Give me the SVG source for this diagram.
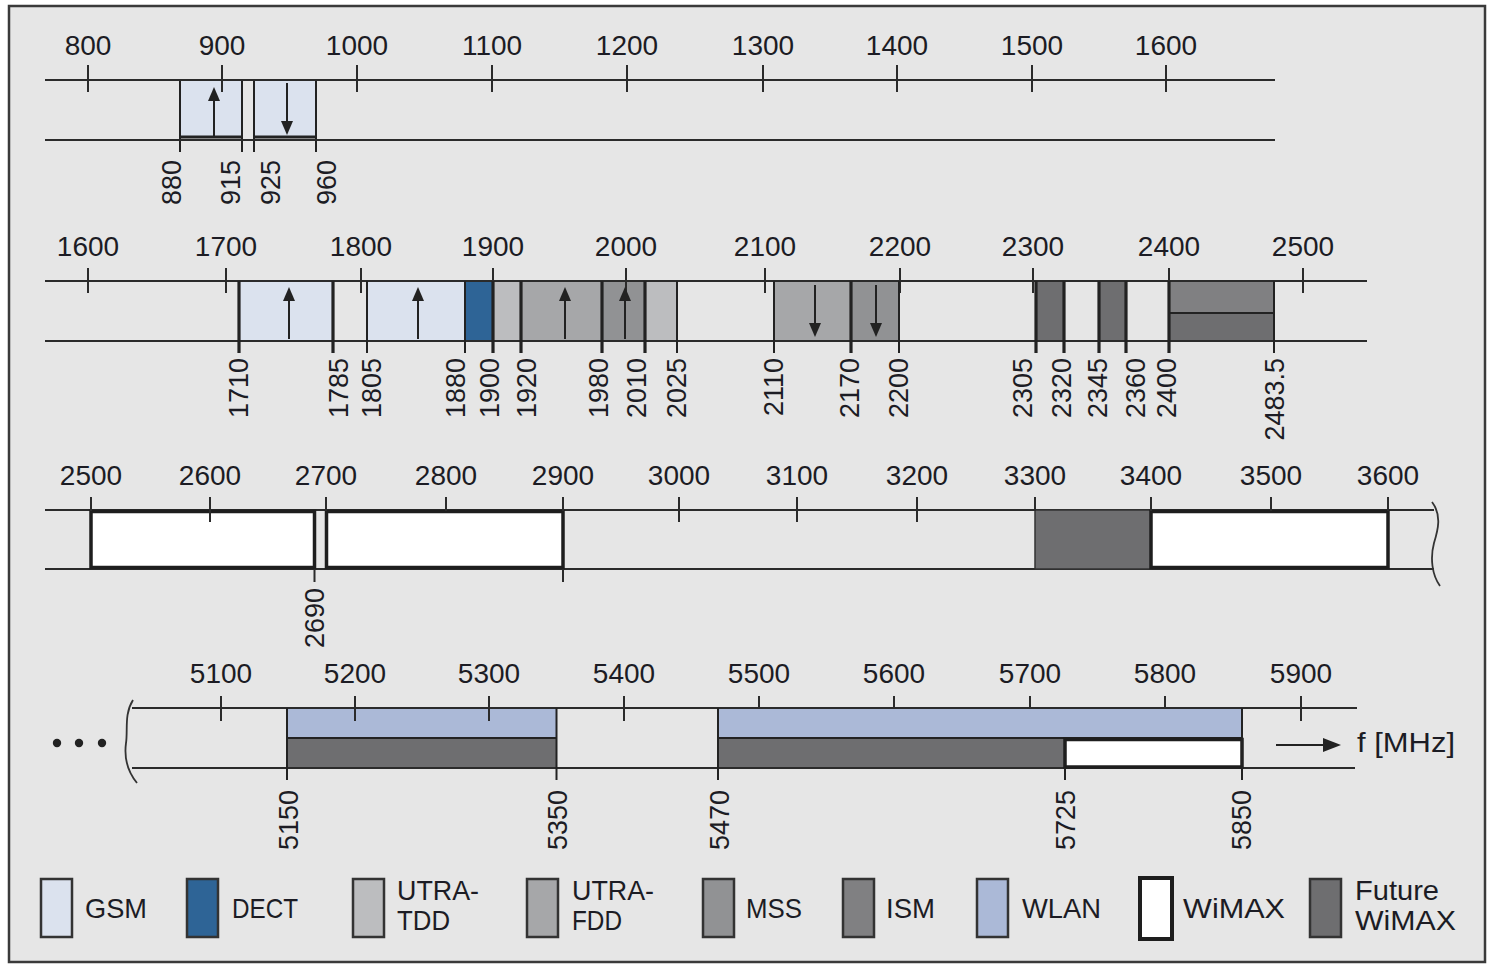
<svg xmlns="http://www.w3.org/2000/svg" width="1489" height="966" viewBox="0 0 1489 966">
<style>
.ax{stroke:#2b2b2b;stroke-width:2;fill:none}
.tk{stroke:#2b2b2b;stroke-width:2}
.e2{stroke:#222;stroke-width:2}
.e3{stroke:#222;stroke-width:3.2}
.ar{stroke:#222;stroke-width:2;marker-end:url(#ah)}
.lbl{font-family:"Liberation Sans",Arial,sans-serif;font-size:28px;fill:#1c1c24;text-anchor:middle}
.vl{font-family:"Liberation Sans",Arial,sans-serif;font-size:27px;fill:#1c1c24;text-anchor:end;dominant-baseline:central}
.lg{font-family:"Liberation Sans",Arial,sans-serif;font-size:28px;fill:#1c1c24}
.gsm{fill:#dbe2ee}
.dect{fill:#2e6496}
.tdd{fill:#bcbdbf}
.fdd{fill:#a6a7a9}
.mss{fill:#919294}
.ism{fill:#808082}
.fw{fill:#6e6e70}
.wlan{fill:#abb9d7}
.wmx{fill:#ffffff;stroke:#1e1e1e;stroke-width:3.5}
.sw{stroke:#333;stroke-width:2.5}
</style>
<defs>
<marker id="ah" viewBox="0 0 14 12" refX="4" refY="6" markerWidth="14" markerHeight="12" markerUnits="userSpaceOnUse" orient="auto"><path d="M0,0 L14,6 L0,12 z" fill="#222"/></marker>
<marker id="ah2" viewBox="0 0 18 14" refX="6" refY="7" markerWidth="18" markerHeight="14" markerUnits="userSpaceOnUse" orient="auto"><path d="M0,0 L18,7 L0,14 z" fill="#222"/></marker>
</defs>
<rect x="9" y="6" width="1476" height="956" fill="#e6e6e6" stroke="#3a3a3a" stroke-width="2.5"/>

<g id="row1">
<g id="row1-bands">
<rect class="gsm" x="180" y="80" width="62" height="57"/>
<rect class="gsm" x="254" y="80" width="62" height="57"/>
<line class="e3" x1="180" y1="137" x2="242" y2="137"/>
<line class="e3" x1="254" y1="137" x2="316" y2="137"/>
<line class="e2" x1="180" y1="80" x2="180" y2="152"/>
<line class="e2" x1="242" y1="80" x2="242" y2="152"/>
<line class="e2" x1="254" y1="80" x2="254" y2="152"/>
<line class="e2" x1="316" y1="80" x2="316" y2="152"/>
</g>
<line class="ax" x1="45" y1="80" x2="1275" y2="80"/>
<line class="ax" x1="45" y1="140" x2="1275" y2="140"/>
<g class="tk">
<line x1="88" y1="65" x2="88" y2="92"/><line x1="222" y1="65" x2="222" y2="92"/><line x1="357" y1="65" x2="357" y2="92"/><line x1="492" y1="65" x2="492" y2="92"/><line x1="627" y1="65" x2="627" y2="92"/><line x1="763" y1="65" x2="763" y2="92"/><line x1="897" y1="65" x2="897" y2="92"/><line x1="1032" y1="65" x2="1032" y2="92"/><line x1="1166" y1="65" x2="1166" y2="92"/>
</g>
<g class="lbl">
<text x="88" y="55">800</text><text x="222" y="55">900</text><text x="357" y="55">1000</text><text x="492" y="55">1100</text><text x="627" y="55">1200</text><text x="763" y="55">1300</text><text x="897" y="55">1400</text><text x="1032" y="55">1500</text><text x="1166" y="55">1600</text>
</g>
<line class="ar" x1="214" y1="137" x2="214" y2="97"/>
<line class="ar" x1="287" y1="83" x2="287" y2="125"/>
<g class="vl">
<text transform="translate(172,160) rotate(-90)">880</text>
<text transform="translate(231,160) rotate(-90)">915</text>
<text transform="translate(271,160) rotate(-90)">925</text>
<text transform="translate(327,160) rotate(-90)">960</text>
</g>
</g>

<g id="row2">
<g id="row2-bands">
<rect class="gsm" x="239" y="281" width="94" height="60"/>
<rect class="gsm" x="367" y="281" width="98" height="60"/>
<rect class="dect" x="465" y="281" width="28" height="60"/>
<rect class="tdd" x="493" y="281" width="28" height="60"/>
<rect class="fdd" x="521" y="281" width="81" height="60"/>
<rect class="mss" x="602" y="281" width="43" height="60"/>
<rect class="tdd" x="645" y="281" width="32" height="60"/>
<rect class="fdd" x="774" y="281" width="77" height="60"/>
<rect class="mss" x="851" y="281" width="48" height="60"/>
<rect class="fw" x="1036" y="281" width="28" height="60"/>
<rect class="fw" x="1099" y="281" width="27" height="60"/>
<rect class="ism" x="1169" y="281" width="105" height="32"/>
<rect class="fw" x="1169" y="313" width="105" height="28"/>
<line class="e2" x1="1169" y1="313" x2="1274" y2="313"/>
</g>
<line class="ax" x1="45" y1="281" x2="1367" y2="281"/>
<line class="ax" x1="45" y1="341" x2="1367" y2="341"/>
<g class="tk">
<line x1="88" y1="268" x2="88" y2="293"/><line x1="226" y1="268" x2="226" y2="293"/><line x1="361" y1="268" x2="361" y2="293"/><line x1="493" y1="268" x2="493" y2="293"/><line x1="626" y1="268" x2="626" y2="293"/><line x1="765" y1="268" x2="765" y2="293"/><line x1="900" y1="268" x2="900" y2="293"/><line x1="1033" y1="268" x2="1033" y2="293"/><line x1="1169" y1="268" x2="1169" y2="293"/><line x1="1303" y1="268" x2="1303" y2="293"/>
</g>
<g id="row2-edges">
<line class="e3" x1="239" y1="281" x2="239" y2="353"/>
<line class="e3" x1="333" y1="281" x2="333" y2="353"/>
<line class="e2" x1="367" y1="281" x2="367" y2="353"/>
<line class="e2" x1="465" y1="281" x2="465" y2="353"/>
<line class="e3" x1="493" y1="281" x2="493" y2="353"/>
<line class="e3" x1="521" y1="281" x2="521" y2="353"/>
<line class="e3" x1="602" y1="281" x2="602" y2="353"/>
<line class="e3" x1="645" y1="281" x2="645" y2="353"/>
<line class="e2" x1="677" y1="281" x2="677" y2="353"/>
<line class="e2" x1="774" y1="281" x2="774" y2="353"/>
<line class="e3" x1="851" y1="281" x2="851" y2="353"/>
<line class="e2" x1="899" y1="281" x2="899" y2="353"/>
<line class="e3" x1="1036" y1="281" x2="1036" y2="353"/>
<line class="e3" x1="1064" y1="281" x2="1064" y2="353"/>
<line class="e3" x1="1099" y1="281" x2="1099" y2="353"/>
<line class="e3" x1="1126" y1="281" x2="1126" y2="353"/>
<line class="e3" x1="1169" y1="281" x2="1169" y2="353"/>
<line class="e2" x1="1274" y1="281" x2="1274" y2="353"/>
</g>
<g class="lbl">
<text x="88" y="256">1600</text><text x="226" y="256">1700</text><text x="361" y="256">1800</text><text x="493" y="256">1900</text><text x="626" y="256">2000</text><text x="765" y="256">2100</text><text x="900" y="256">2200</text><text x="1033" y="256">2300</text><text x="1169" y="256">2400</text><text x="1303" y="256">2500</text>
</g>
<line class="ar" x1="289" y1="339" x2="289" y2="297"/>
<line class="ar" x1="418" y1="339" x2="418" y2="297"/>
<line class="ar" x1="565" y1="339" x2="565" y2="297"/>
<line class="ar" x1="625" y1="339" x2="625" y2="297"/>
<line class="ar" x1="815" y1="285" x2="815" y2="327"/>
<line class="ar" x1="876" y1="285" x2="876" y2="327"/>
<g class="vl">
<text transform="translate(239,358) rotate(-90)">1710</text>
<text transform="translate(339,358) rotate(-90)">1785</text>
<text transform="translate(372,358) rotate(-90)">1805</text>
<text transform="translate(456,358) rotate(-90)">1880</text>
<text transform="translate(490,358) rotate(-90)">1900</text>
<text transform="translate(527,358) rotate(-90)">1920</text>
<text transform="translate(599,358) rotate(-90)">1980</text>
<text transform="translate(637,358) rotate(-90)">2010</text>
<text transform="translate(677,358) rotate(-90)">2025</text>
<text transform="translate(774,358) rotate(-90)">2110</text>
<text transform="translate(850,358) rotate(-90)">2170</text>
<text transform="translate(899,358) rotate(-90)">2200</text>
<text transform="translate(1023,358) rotate(-90)">2305</text>
<text transform="translate(1062,358) rotate(-90)">2320</text>
<text transform="translate(1098,358) rotate(-90)">2345</text>
<text transform="translate(1136,358) rotate(-90)">2360</text>
<text transform="translate(1167,358) rotate(-90)">2400</text>
<text transform="translate(1275,358) rotate(-90)">2483.5</text>
</g>
</g>

<g id="row3">
<line class="ax" x1="45" y1="510" x2="1434" y2="510"/>
<line class="ax" x1="45" y1="569" x2="1434" y2="569"/>
<g id="row3-bands">
<rect class="wmx" x="91" y="511.5" width="223.5" height="56"/>
<rect class="wmx" x="326.5" y="511.5" width="236.5" height="56"/>
<rect class="fw" x="1035" y="510" width="116" height="59" stroke="#333" stroke-width="1.5"/>
<rect class="wmx" x="1151" y="511.5" width="237" height="56"/>
</g>
<g class="tk">
<line x1="91" y1="497" x2="91" y2="511"/><line x1="210" y1="497" x2="210" y2="522"/><line x1="326" y1="497" x2="326" y2="511"/><line x1="446" y1="497" x2="446" y2="511"/><line x1="563" y1="497" x2="563" y2="511"/><line x1="679" y1="497" x2="679" y2="522"/><line x1="797" y1="497" x2="797" y2="522"/><line x1="917" y1="497" x2="917" y2="522"/><line x1="1035" y1="497" x2="1035" y2="511"/><line x1="1151" y1="497" x2="1151" y2="511"/><line x1="1271" y1="497" x2="1271" y2="511"/><line x1="1388" y1="497" x2="1388" y2="511"/>
<line x1="314.5" y1="569" x2="314.5" y2="582"/><line x1="563" y1="569" x2="563" y2="582"/>
</g>
<g class="lbl">
<text x="91" y="485">2500</text><text x="210" y="485">2600</text><text x="326" y="485">2700</text><text x="446" y="485">2800</text><text x="563" y="485">2900</text><text x="679" y="485">3000</text><text x="797" y="485">3100</text><text x="917" y="485">3200</text><text x="1035" y="485">3300</text><text x="1151" y="485">3400</text><text x="1271" y="485">3500</text><text x="1388" y="485">3600</text>
</g>
<g class="vl"><text transform="translate(315,588) rotate(-90)">2690</text></g>
<path d="M1432,502 C1442,515 1438,530 1434,543 C1430,558 1432,575 1440,586" fill="none" stroke="#333" stroke-width="1.8"/>
</g>

<g id="row4">
<g id="row4-bands">
<rect class="wlan" x="287" y="708" width="269.5" height="30"/>
<rect class="fw" x="287" y="738" width="269.5" height="30"/>
<rect class="wlan" x="718" y="708" width="524" height="30"/>
<rect class="fw" x="718" y="738" width="347" height="30"/>
<line class="e2" x1="287" y1="738" x2="556.5" y2="738"/>
<line class="e2" x1="718" y1="738" x2="1242" y2="738"/>
</g>
<line class="ax" x1="132" y1="708" x2="1357" y2="708"/>
<line class="ax" x1="132" y1="768" x2="1355" y2="768"/>
<rect class="wmx" x="1065" y="739.5" width="177" height="27.5"/>
<g class="e2">
<line x1="287" y1="708" x2="287" y2="780"/>
<line x1="556.5" y1="708" x2="556.5" y2="780"/>
<line x1="718" y1="708" x2="718" y2="780"/>
<line x1="1242" y1="708" x2="1242" y2="780"/>
<line x1="1065" y1="768" x2="1065" y2="780"/>
</g>
<g class="tk">
<line x1="221" y1="696" x2="221" y2="721"/><line x1="355" y1="696" x2="355" y2="721"/><line x1="489" y1="696" x2="489" y2="721"/><line x1="624" y1="696" x2="624" y2="721"/><line x1="759" y1="696" x2="759" y2="708"/><line x1="894" y1="696" x2="894" y2="708"/><line x1="1030" y1="696" x2="1030" y2="708"/><line x1="1165" y1="696" x2="1165" y2="708"/><line x1="1301" y1="696" x2="1301" y2="721"/>
</g>
<g class="lbl">
<text x="221" y="683">5100</text><text x="355" y="683">5200</text><text x="489" y="683">5300</text><text x="624" y="683">5400</text><text x="759" y="683">5500</text><text x="894" y="683">5600</text><text x="1030" y="683">5700</text><text x="1165" y="683">5800</text><text x="1301" y="683">5900</text>
</g>
<g class="vl">
<text transform="translate(289,790) rotate(-90)">5150</text>
<text transform="translate(558,790) rotate(-90)">5350</text>
<text transform="translate(720,790) rotate(-90)">5470</text>
<text transform="translate(1066,790) rotate(-90)">5725</text>
<text transform="translate(1242,790) rotate(-90)">5850</text>
</g>
<path d="M133,700 C124,714 128,730 126,743 C124,758 128,772 137,783" fill="none" stroke="#333" stroke-width="1.8"/>
<g fill="#222"><circle cx="57" cy="743" r="4.2"/><circle cx="79" cy="743" r="4.2"/><circle cx="102" cy="743" r="4.2"/></g>
<line x1="1276" y1="745" x2="1329" y2="745" stroke="#222" stroke-width="2" marker-end="url(#ah2)"/>
<text class="lg" x="1357" y="752" textLength="98" lengthAdjust="spacingAndGlyphs">f [MHz]</text>
</g>

<g id="legend">
<g id="lg-gsm"><rect class="gsm sw" x="41" y="879" width="31" height="58"/><text class="lg" x="85" y="918" textLength="62" lengthAdjust="spacingAndGlyphs">GSM</text></g>
<g id="lg-dect"><rect class="dect sw" x="187" y="879" width="31" height="58"/><text class="lg" x="232" y="918" textLength="66" lengthAdjust="spacingAndGlyphs">DECT</text></g>
<g id="lg-tdd"><rect class="tdd sw" x="353" y="879" width="31" height="58"/><text class="lg" x="397" y="900" textLength="82" lengthAdjust="spacingAndGlyphs">UTRA-</text><text class="lg" x="397" y="930" textLength="53" lengthAdjust="spacingAndGlyphs">TDD</text></g>
<g id="lg-fdd"><rect class="fdd sw" x="527" y="879" width="31" height="58"/><text class="lg" x="572" y="900" textLength="82" lengthAdjust="spacingAndGlyphs">UTRA-</text><text class="lg" x="572" y="930" textLength="50" lengthAdjust="spacingAndGlyphs">FDD</text></g>
<g id="lg-mss"><rect class="mss sw" x="703" y="879" width="31" height="58"/><text class="lg" x="746" y="918" textLength="56" lengthAdjust="spacingAndGlyphs">MSS</text></g>
<g id="lg-ism"><rect class="ism sw" x="843" y="879" width="31" height="58"/><text class="lg" x="886" y="918" textLength="49" lengthAdjust="spacingAndGlyphs">ISM</text></g>
<g id="lg-wlan"><rect class="wlan sw" x="977" y="879" width="31" height="58"/><text class="lg" x="1022" y="918" textLength="79" lengthAdjust="spacingAndGlyphs">WLAN</text></g>
<g id="lg-wimax"><rect x="1140" y="878" width="32" height="61" fill="#fff" stroke="#1e1e1e" stroke-width="4"/><text class="lg" x="1183" y="918" textLength="102" lengthAdjust="spacingAndGlyphs">WiMAX</text></g>
<g id="lg-fwimax"><rect class="fw sw" x="1310" y="879" width="31" height="58"/><text class="lg" x="1355" y="900" textLength="84" lengthAdjust="spacingAndGlyphs">Future</text><text class="lg" x="1355" y="930" textLength="101" lengthAdjust="spacingAndGlyphs">WiMAX</text></g>
</g>
</svg>
